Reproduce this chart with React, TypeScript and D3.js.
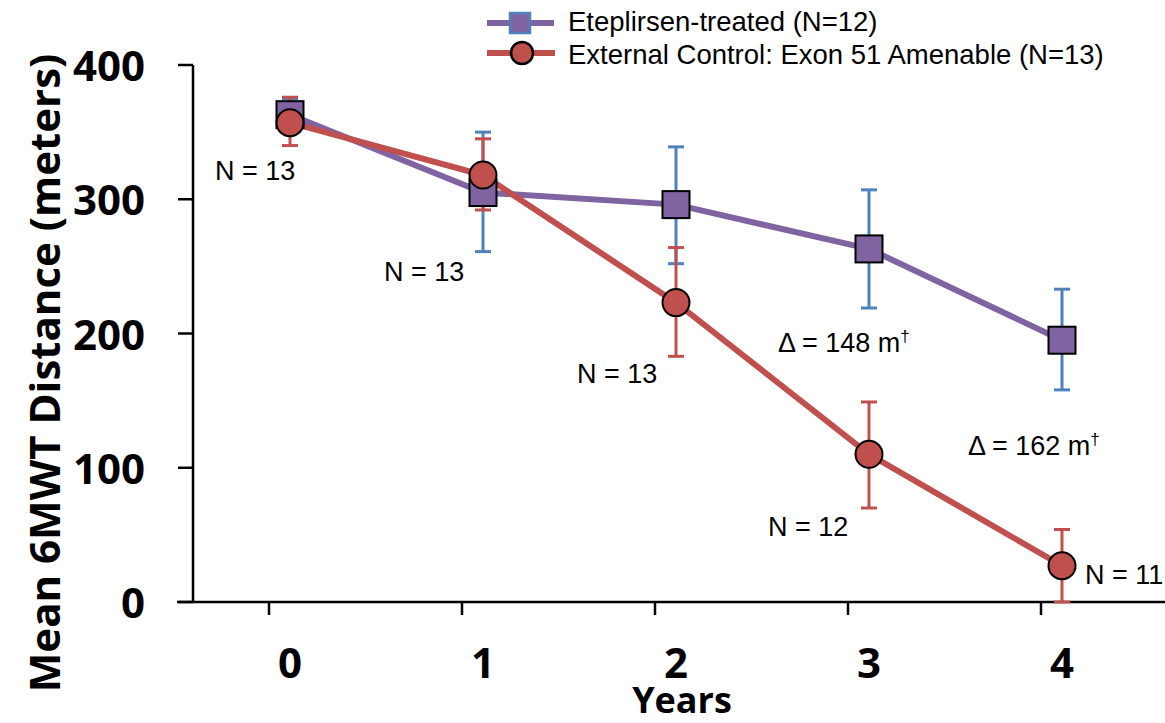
import React from "react";
import * as d3 from "d3";

const years = [0, 1, 2, 3, 4];
const eteMean = [363, 305, 296, 263, 195];
const eteLow = [352, 261, 252, 219, 158];
const eteHigh = [375, 350, 339, 307, 233];
const ctlMean = [357, 318, 223, 110, 27];
const ctlLow = [340, 292, 183, 70, 0];
const ctlHigh = [376, 345, 264, 149, 54];
const yTicks = [0, 100, 200, 300, 400];
const nLabels = [
  { text: "N = 13", year: 0, value: 357 },
  { text: "N = 13", year: 1, value: 318 },
  { text: "N = 13", year: 2, value: 223 },
  { text: "N = 12", year: 3, value: 110 },
  { text: "N = 11", year: 4, value: 27 },
];
const deltas = [
  { value: "148", year: 3 },
  { value: "162", year: 4 },
];

const PURPLE = "#8064A2";
const BLUE = "#4F81BD";
const RED = "#C0504D";

export default function App() {
  const W = 1165, H = 723;
  const x = d3.scaleLinear().domain([0, 4]).range([290, 1062]);
  const y = d3.scaleLinear().domain([0, 400]).range([602, 65]);
  const line = d3.line<number>().x((_, i) => x(years[i])).y((d) => y(d));
  const axisX = 193;
  const nOffsets = [
    { dx: -75, dy: 57 },
    { dx: -99, dy: 106 },
    { dx: -99, dy: 80 },
    { dx: -101, dy: 82 },
    { dx: 23, dy: 18 },
  ];
  const deltaPos = [
    { dx: -91, dy: 103 },
    { dx: -94, dy: 115 },
  ];
  const errBars = (low: number[], high: number[], color: string) =>
    years.map((yr, i) => (
      <g key={i} stroke={color} strokeWidth={3}>
        <line x1={x(yr)} x2={x(yr)} y1={y(low[i])} y2={y(high[i])} />
        <line x1={x(yr) - 8} x2={x(yr) + 8} y1={y(low[i])} y2={y(low[i])} />
        <line x1={x(yr) - 8} x2={x(yr) + 8} y1={y(high[i])} y2={y(high[i])} />
      </g>
    ));
  const sans = "Liberation Sans, Arial, sans-serif";
  return (
    <svg width={W} height={H} style={{ position: "absolute", left: 0, top: 0, background: "#fff" }}>
      {/* axes */}
      <line x1={axisX} x2={axisX} y1={y(400)} y2={y(0)} stroke="#000" strokeWidth={2.5} />
      <line x1={177} x2={W} y1={y(0)} y2={y(0)} stroke="#000" strokeWidth={2.5} />
      {yTicks.map((t) => (
        <g key={t}>
          <line x1={178} x2={axisX} y1={y(t)} y2={y(t)} stroke="#000" strokeWidth={2.5} />
          <text x={145} y={y(t) + 16} textAnchor="end" fontFamily="Open Sans" fontWeight={700} fontSize={42}>
            {t}
          </text>
        </g>
      ))}
      {years.map((yr) => (
        <g key={yr}>
          <line x1={x(yr) - 21} x2={x(yr) - 21} y1={y(0)} y2={y(0) + 13} stroke="#000" strokeWidth={2.5} />
          <text x={x(yr)} y={678} textAnchor="middle" fontFamily="Open Sans" fontWeight={700} fontSize={42}>
            {yr}
          </text>
        </g>
      ))}
      <text x={682} y={713} textAnchor="middle" fontFamily="Open Sans" fontWeight={700} fontSize={36}>
        Years
      </text>
      <text
        transform={`translate(60, 373) rotate(-90)`}
        textAnchor="middle"
        fontFamily="Open Sans"
        fontWeight={700}
        fontSize={42}
      >
        Mean 6MWT Distance (meters)
      </text>

      {/* eteplirsen */}
      {errBars(eteLow, eteHigh, BLUE)}
      <path d={line(eteMean) || ""} fill="none" stroke={PURPLE} strokeWidth={6} />
      {/* control */}
      {errBars(ctlLow, ctlHigh, RED)}
      <path d={line(ctlMean) || ""} fill="none" stroke={RED} strokeWidth={6} />
      {eteMean.map((v, i) => (
        <rect key={i} x={x(years[i]) - 13.5} y={y(v) - 13.5} width={27} height={27} fill={PURPLE} stroke="#000" strokeWidth={2} />
      ))}
      {ctlMean.map((v, i) => (
        <circle key={i} cx={x(years[i])} cy={y(v)} r={13.5} fill={RED} stroke="#000" strokeWidth={2} />
      ))}

      {/* annotations */}
      {nLabels.map((n, i) => (
        <text key={i} x={x(n.year) + nOffsets[i].dx} y={y(n.value) + nOffsets[i].dy} fontFamily={sans} fontSize={27}>
          {n.text}
        </text>
      ))}
      {deltas.map((d, i) => (
        <text key={i} x={x(d.year) + deltaPos[i].dx} y={y(eteMean[d.year]) + deltaPos[i].dy} fontFamily={sans} fontSize={27}>
          {"\u0394 = " + d.value + " m"}
          <tspan dy={-10} fontSize={17}>
            {"\u2020"}
          </tspan>
        </text>
      ))}

      {/* legend */}
      <line x1={487} x2={554} y1={23} y2={23} stroke={PURPLE} strokeWidth={6} />
      <rect x={510} y={13} width={20} height={20} fill={PURPLE} stroke={BLUE} strokeWidth={2.5} />
      <text x={568} y={31} fontFamily={sans} fontSize={27.5}>
        Eteplirsen-treated (N=12)
      </text>
      <line x1={487} x2={555} y1={53} y2={53} stroke={RED} strokeWidth={6} />
      <circle cx={522} cy={53} r={11} fill={RED} stroke="#000" strokeWidth={2.5} />
      <text x={568} y={64} fontFamily={sans} fontSize={27.5}>
        External Control: Exon 51 Amenable (N=13)
      </text>
    </svg>
  );
}
